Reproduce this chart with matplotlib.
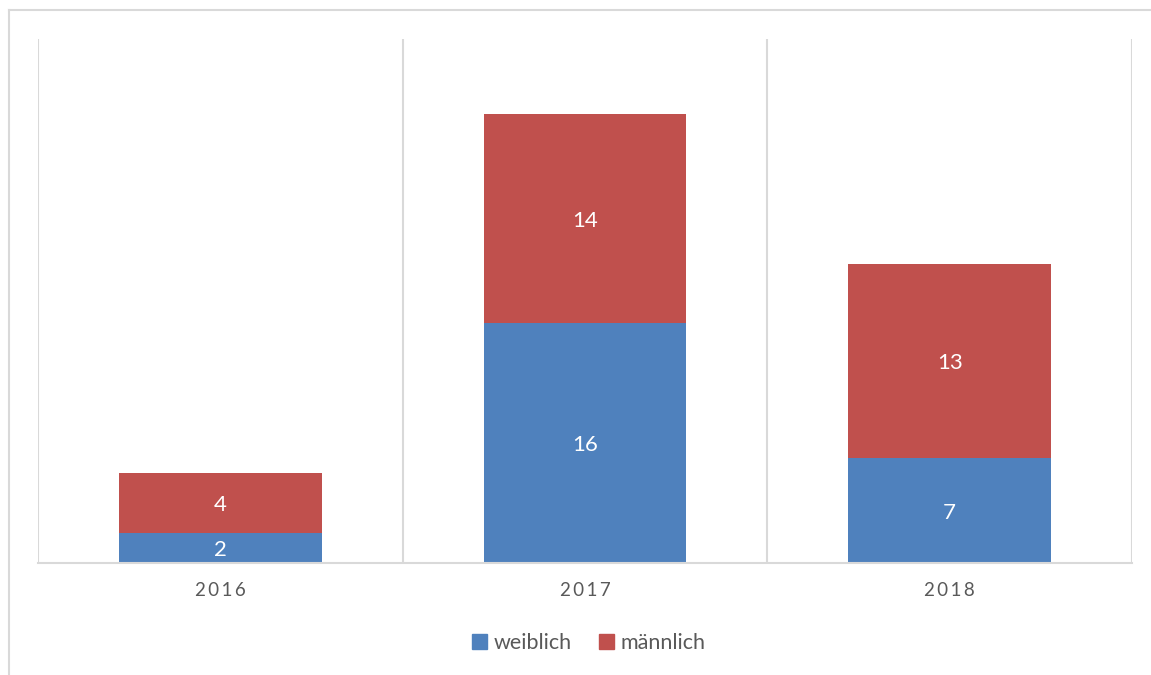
import numpy as np
import matplotlib.pyplot as plt
from matplotlib.lines import Line2D
from matplotlib.patches import Patch

years = ['2016', '2017', '2018']
weiblich = [2, 16, 7]
maennlich = [4, 14, 13]

blue = '#4F81BD'
red = '#C0504D'
grid = '#D9D9D9'
txt = '#595959'

plt.rcParams['font.family'] = ['Lato', 'DejaVu Sans']

fig = plt.figure(figsize=(11.51, 6.75), dpi=100)
ax = fig.add_axes([38/1151, 1-563/675, (1132-38)/1151, (563-39)/675])

x = np.arange(len(years))
w = 0.556
b1 = ax.bar(x, weiblich, w, color=blue, label='weiblich')
b2 = ax.bar(x, maennlich, w, bottom=weiblich, color=red, label='männlich')

for vals, base in [(weiblich, [0]*3), (maennlich, weiblich)]:
    for i, (v, b0) in enumerate(zip(vals, base)):
        ax.text(x[i], b0 + v/2, str(v), ha='center', va='center_baseline',
                color='white', fontsize=16)

ax.set_xlim(-0.5, 2.5)
ax.set_ylim(0, 35)
ax.set_yticks([])
ax.set_xticks(x)
ax.set_xticklabels(['\u2009'.join(y) for y in years], color=txt, fontsize=13.5)
ax.tick_params(axis='x', length=0, pad=14)
ax.set_xticks([-0.5, 0.5, 1.5, 2.5], minor=True)
ax.tick_params(axis='x', which='minor', length=0)
ax.grid(True, which='minor', axis='x', color=grid, linewidth=1.5)
ax.set_axisbelow(True)
for s in ['top', 'left', 'right']:
    ax.spines[s].set_visible(False)
ax.spines['bottom'].set_color(grid)
ax.spines['bottom'].set_linewidth(1.5)

# outer chart border (left and top visible)
fig.add_artist(Line2D([9/1151, 9/1151], [0, 1-10/675], color=grid, linewidth=1.5))
fig.add_artist(Line2D([9/1151, 1], [1-10/675, 1-10/675], color=grid, linewidth=1.5))

handles = [Patch(color=blue, label='weiblich'), Patch(color=red, label='männlich')]
leg = fig.legend(handles=handles, loc='center', bbox_to_anchor=(0.5115, 1-643/675),
                 ncol=2, frameon=False, fontsize=15.5, handlelength=0.7,
                 handleheight=0.7, handletextpad=0.3, columnspacing=1.3)
for t in leg.get_texts():
    t.set_color(txt)

fig.savefig('out.png', dpi=100)
